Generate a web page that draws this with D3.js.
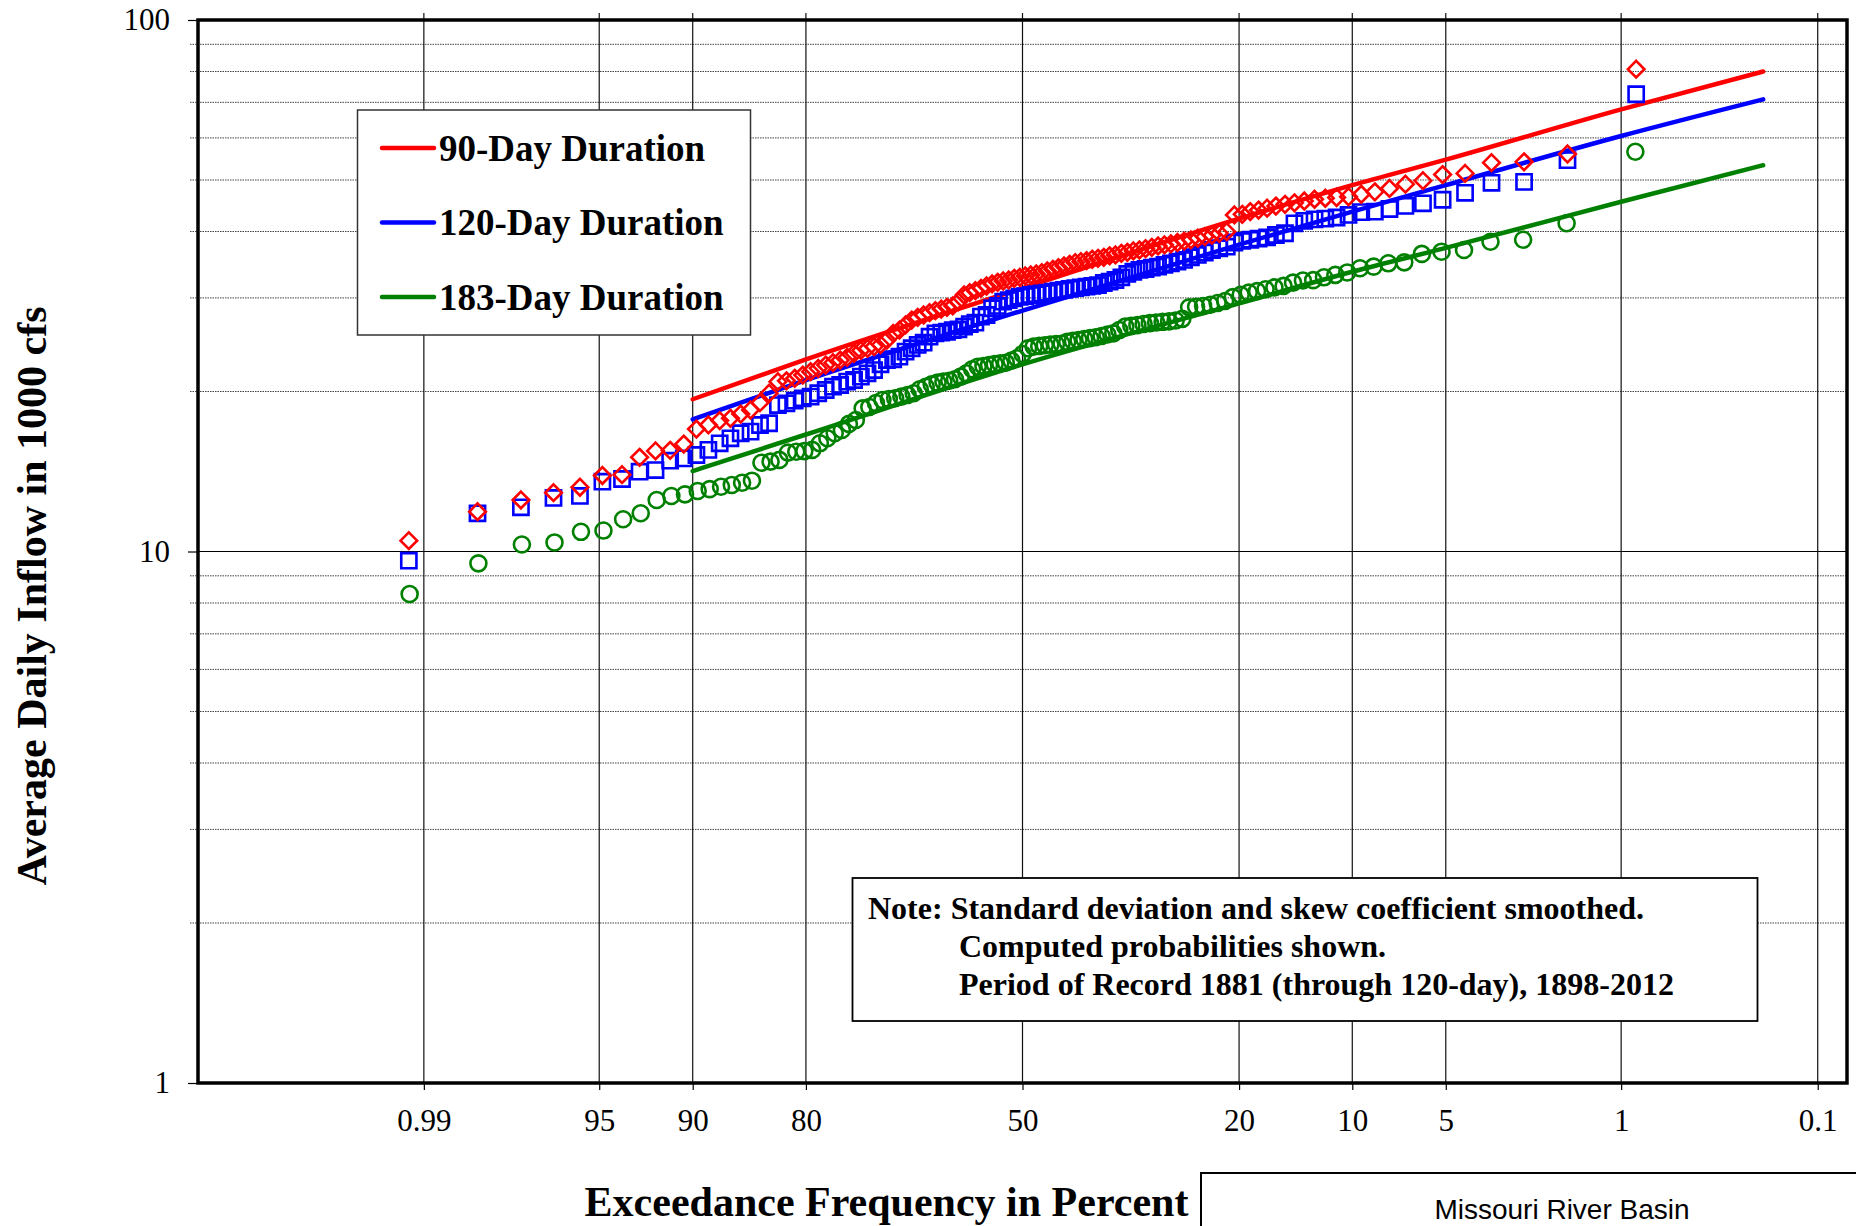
<!DOCTYPE html>
<html><head><meta charset="utf-8">
<script src="https://cdn.jsdelivr.net/npm/d3@7"></script>
<style>
html,body{margin:0;padding:0;background:#fff;}
svg{display:block;}
</style></head>
<body>
<svg id="chart" width="1856" height="1226"></svg>
<script>
// ---------------- DATA ----------------
const xTickPercents = [99, 95, 90, 80, 50, 20, 10, 5, 1, 0.1];
const xTickLabels = ["0.99", "95", "90", "80", "50", "20", "10", "5", "1", "0.1"];
const yMajorTicks = [1, 10, 100];
const yMinorTicks = [2, 3, 4, 5, 6, 7, 8, 9, 20, 30, 40, 50, 60, 70, 80, 90];

const seriesNames = ["90-Day Duration", "120-Day Duration", "183-Day Duration"];
const seriesColors = ["#ff0000", "#0000ff", "#008000"];

// Observed average daily inflow (1000 cfs), sorted ascending
const obs90 = [10.48, 11.88, 12.50, 12.90, 13.21, 13.90, 13.95, 15.04, 15.46, 15.50,
  15.93, 17.00, 17.30, 17.63, 17.81, 18.14, 18.46, 19.05, 19.85, 20.87,
  20.95, 21.18, 21.48, 21.79, 22.11, 22.43, 22.66, 22.92, 23.19, 23.60,
  23.90, 24.10, 24.30, 24.50, 25.00, 25.73, 26.10, 26.68, 27.26, 27.58,
  27.86, 28.14, 28.39, 28.59, 28.80, 28.97, 29.51, 30.38, 30.68, 30.95,
  31.27, 31.59, 31.87, 32.10, 32.28, 32.42, 32.66, 32.80, 32.99, 33.13,
  33.28, 33.47, 33.71, 33.96, 34.20, 34.45, 34.70, 34.95, 35.10, 35.26,
  35.47, 35.62, 35.77, 36.00, 36.14, 36.40, 36.55, 36.77, 36.92, 37.13,
  37.36, 37.57, 37.75, 37.92, 38.14, 38.36, 38.56, 38.85, 39.12, 39.36,
  39.70, 39.97, 42.97, 43.10, 43.60, 43.90, 44.25, 44.67, 45.00, 45.30,
  45.65, 46.00, 46.20, 46.35, 46.50, 47.00, 47.50, 48.20, 49.10, 49.85,
  51.20, 51.45, 53.90, 54.10, 55.96, 80.80];

const obs120 = [9.61, 11.80, 12.11, 12.61, 12.72, 13.53, 13.69, 14.13, 14.23, 14.82,
  14.97, 15.19, 15.53, 15.98, 16.33, 16.69, 16.81, 17.30, 17.43, 18.86,
  19.00, 19.22, 19.42, 19.56, 19.85, 20.13, 20.42, 20.57, 20.87, 21.02,
  21.33, 21.64, 21.95, 22.50, 22.92, 23.00, 23.26, 23.77, 24.12, 24.47,
  24.71, 25.36, 25.73, 25.80, 25.91, 26.10, 26.17, 26.49, 26.79, 26.95,
  27.66, 27.86, 28.68, 28.97, 29.51, 29.72, 29.94, 30.15, 30.24, 30.38,
  30.48, 30.59, 30.68, 30.82, 30.95, 31.05, 31.20, 31.30, 31.40, 31.50,
  31.60, 31.72, 32.00, 32.19, 32.42, 32.80, 33.28, 33.60, 33.86, 34.00,
  34.20, 34.35, 34.62, 34.85, 35.10, 35.36, 35.78, 36.14, 36.50, 36.92,
  37.20, 37.45, 38.14, 38.40, 38.60, 38.80, 39.00, 39.40, 39.70, 41.45,
  41.90, 42.15, 42.30, 42.50, 42.97, 43.50, 43.60, 44.10, 44.70, 45.20,
  45.90, 47.30, 49.40, 49.60, 54.50, 72.50];

const obs183 = [8.32, 9.50, 10.31, 10.40, 10.89, 10.95, 11.50, 11.80, 12.50, 12.72,
  12.81, 13.00, 13.10, 13.24, 13.34, 13.47, 13.59, 14.69, 14.76, 14.87,
  15.35, 15.41, 15.45, 15.53, 15.98, 16.33, 16.69, 16.93, 17.38, 17.68,
  18.59, 18.70, 19.03, 19.28, 19.36, 19.42, 19.56, 19.70, 19.85, 20.20,
  20.42, 20.63, 20.78, 20.87, 20.96, 21.09, 21.33, 21.64, 22.02, 22.27,
  22.34, 22.43, 22.53, 22.59, 22.66, 22.86, 23.10, 23.53, 24.12, 24.29,
  24.37, 24.44, 24.50, 24.57, 24.60, 24.80, 24.90, 25.00, 25.10, 25.20,
  25.30, 25.44, 25.60, 25.73, 26.10, 26.49, 26.58, 26.66, 26.80,
  26.90, 26.96, 27.05, 27.10, 27.20, 27.40, 28.80, 28.88, 28.97, 29.12,
  29.35, 29.60, 30.10, 30.40, 30.70, 30.90, 31.15, 31.40, 31.60, 32.05,
  32.35, 32.40, 32.80, 33.15, 33.50, 34.12, 34.35, 34.85, 35.00, 36.30,
  36.65, 36.92, 38.27, 38.60, 41.45, 56.50];

// Computed (fitted) frequency curves
const fitPercents = [90, 80, 50, 20, 10, 5, 1, 0.2];
const fit90  = [19.34, 22.99, 31.30, 42.30, 48.90, 54.60, 67.90, 80.00];
const fit120 = [17.73, 21.00, 28.40, 37.80, 43.60, 48.90, 60.50, 70.90];
const fit183 = [14.17, 16.60, 22.50, 29.30, 33.60, 37.25, 45.50, 53.30];

const noteLines = ["Note: Standard deviation and skew coefficient smoothed.",
  "Computed probabilities shown.",
  "Period of Record 1881 (through 120-day), 1898-2012"];

// ---------------- HELPERS ----------------
function normInv(p) {
  const a = [-3.969683028665376e+01, 2.209460984245205e+02, -2.759285104469687e+02, 1.383577518672690e+02, -3.066479806614716e+01, 2.506628277459239e+00];
  const b = [-5.447609879822406e+01, 1.615858368580409e+02, -1.556989798598866e+02, 6.680131188771972e+01, -1.328068155288572e+01];
  const c = [-7.784894002430293e-03, -3.223964580411365e-01, -2.400758277161838e+00, -2.549732539343734e+00, 4.374664141464968e+00, 2.938163982698783e+00];
  const d = [7.784695709041462e-03, 3.224671290700398e-01, 2.445134137142996e+00, 3.754408661907416e+00];
  const pl = 0.02425, ph = 1 - pl;
  let q, r;
  if (p < pl) { q = Math.sqrt(-2 * Math.log(p)); return (((((c[0]*q+c[1])*q+c[2])*q+c[3])*q+c[4])*q+c[5]) / ((((d[0]*q+d[1])*q+d[2])*q+d[3])*q+1); }
  if (p <= ph) { q = p - 0.5; r = q*q; return (((((a[0]*r+a[1])*r+a[2])*r+a[3])*r+a[4])*r+a[5])*q / (((((b[0]*r+b[1])*r+b[2])*r+b[3])*r+b[4])*r+1); }
  q = Math.sqrt(-2 * Math.log(1 - p));
  return -(((((c[0]*q+c[1])*q+c[2])*q+c[3])*q+c[4])*q+c[5]) / ((((d[0]*q+d[1])*q+d[2])*q+d[3])*q+1);
}
const zOf = pct => normInv(1 - pct / 100);           // exceedance percent -> normal deviate
const plotPct = (i, n) => 100 * (n - i) / (n + 1);   // Weibull plotting position (i = 0-based ascending rank)

// ---------------- LAYOUT ----------------
const L = 198, R = 1847, T = 20, B = 1083;
const serif = "'Liberation Serif','Times New Roman',Times,serif";

const svg = d3.select("#chart");
const x = d3.scaleLinear().domain([-3.204, 3.204]).range([L, R]);
const y = d3.scaleLog().domain([1, 100]).range([B, T]);
const xp = pct => x(zOf(pct));

// gridlines
const grid = svg.append("g");
grid.selectAll("line.minor").data(yMinorTicks).join("line")
  .attr("x1", L - 8).attr("x2", R).attr("y1", d => y(d)).attr("y2", d => y(d))
  .attr("stroke", "#444").attr("stroke-width", 1).attr("stroke-dasharray", "1.5,1");
grid.append("line").attr("x1", L).attr("x2", R).attr("y1", y(10)).attr("y2", y(10))
  .attr("stroke", "#000").attr("stroke-width", 1.2);
grid.selectAll("line.v").data(xTickPercents).join("line")
  .attr("x1", d => xp(d)).attr("x2", d => xp(d)).attr("y1", T - 7).attr("y2", B)
  .attr("stroke", "#111").attr("stroke-width", 1.2);

// legend box
const lg = svg.append("g");
lg.append("rect").attr("x", 357.5).attr("y", 110).attr("width", 393).attr("height", 225)
  .attr("fill", "#fff").attr("stroke", "#333").attr("stroke-width", 1.5);
const legRows = [148, 222.5, 297];
seriesNames.forEach((nm, i) => {
  lg.append("line").attr("x1", 382).attr("x2", 434).attr("y1", legRows[i]).attr("y2", legRows[i])
    .attr("stroke", seriesColors[i]).attr("stroke-width", 4.5).attr("stroke-linecap", "round");
  lg.append("text").attr("x", 439).attr("y", legRows[i] + 12.5).text(nm)
    .attr("font-family", serif).attr("font-weight", "bold").attr("font-size", 37).attr("fill", "#000");
});

// note box
const nb = svg.append("g");
nb.append("rect").attr("x", 852.5).attr("y", 878).attr("width", 905).attr("height", 143)
  .attr("fill", "#fff").attr("stroke", "#000").attr("stroke-width", 1.8);
const noteX = [868, 959, 959], noteY = [919, 957, 995];
noteLines.forEach((t, i) => {
  nb.append("text").attr("x", noteX[i]).attr("y", noteY[i]).text(t)
    .attr("font-family", serif).attr("font-weight", "bold").attr("font-size", 32).attr("fill", "#000");
});

// fitted lines
const fits = [fit90, fit120, fit183];
const line = d3.line().x(d => x(d[0])).y(d => y(d[1])).curve(d3.curveMonotoneX);
fits.forEach((f, i) => {
  const pts = fitPercents.map((p, k) => [zOf(p), f[k]]);
  svg.append("path").attr("d", line(pts)).attr("fill", "none")
    .attr("stroke", seriesColors[i]).attr("stroke-width", 4.5).attr("stroke-linecap", "round");
});

// observed markers
const obsAll = [obs90, obs120, obs183];
const markerPath = [
  "M0,-8.3L8.3,0L0,8.3L-8.3,0Z",
  "M-7.6,-7.6H7.6V7.6H-7.6Z",
  null
];
[2, 1, 0].forEach(si => {
  const arr = obsAll[si], n = arr.length;
  const g = svg.append("g");
  const data = arr.map((v, i) => ({ px: x(zOf(plotPct(i, n))), py: y(v) }));
  if (si === 2) {
    g.selectAll("circle").data(data).join("circle")
      .attr("cx", d => d.px).attr("cy", d => d.py).attr("r", 8)
      .attr("fill", "none").attr("stroke", seriesColors[si]).attr("stroke-width", 2.6);
  } else {
    g.selectAll("path").data(data).join("path")
      .attr("transform", d => `translate(${d.px},${d.py})`).attr("d", markerPath[si])
      .attr("fill", "none").attr("stroke", seriesColors[si]).attr("stroke-width", 2.6);
  }
});

// frame
svg.append("rect").attr("x", L).attr("y", T).attr("width", R - L).attr("height", B - T)
  .attr("fill", "none").attr("stroke", "#000").attr("stroke-width", 3.5);

// axes
const yAxis = d3.axisLeft(y).tickValues(yMajorTicks).tickFormat(d3.format("d")).tickSize(10).tickPadding(18);
const gy = svg.append("g").attr("transform", `translate(${L},0)`).call(yAxis);
gy.select(".domain").remove();
gy.selectAll(".tick line").attr("stroke", "#000").attr("stroke-width", 1.2);
gy.selectAll(".tick text").attr("font-family", serif).attr("font-size", 31).attr("fill", "#000");

const xAxis = d3.axisBottom(x).tickValues(xTickPercents.map(zOf))
  .tickFormat((d, i) => xTickLabels[i]).tickSize(7).tickPadding(19);
const gx = svg.append("g").attr("transform", `translate(0,${B})`).call(xAxis);
gx.select(".domain").remove();
gx.selectAll(".tick line").attr("stroke", "#000").attr("stroke-width", 1.2);
gx.selectAll(".tick text").attr("font-family", serif).attr("font-size", 31).attr("fill", "#000");

// axis titles
svg.append("text").attr("transform", "translate(46,596) rotate(-90)").attr("text-anchor", "middle")
  .text("Average Daily Inflow in 1000 cfs")
  .attr("font-family", serif).attr("font-weight", "bold").attr("font-size", 42).attr("fill", "#000");
svg.append("text").attr("x", 886.5).attr("y", 1216).attr("text-anchor", "middle")
  .text("Exceedance Frequency in Percent")
  .attr("font-family", serif).attr("font-weight", "bold").attr("font-size", 42).attr("fill", "#000");

// basin box
svg.append("rect").attr("x", 1201).attr("y", 1173).attr("width", 700).attr("height", 120)
  .attr("fill", "#fff").attr("stroke", "#000").attr("stroke-width", 2);
svg.append("text").attr("x", 1562).attr("y", 1219).attr("text-anchor", "middle")
  .text("Missouri River Basin")
  .attr("font-family", "'Liberation Sans',Arial,sans-serif").attr("font-size", 28).attr("fill", "#000");
</script>
</body></html>
